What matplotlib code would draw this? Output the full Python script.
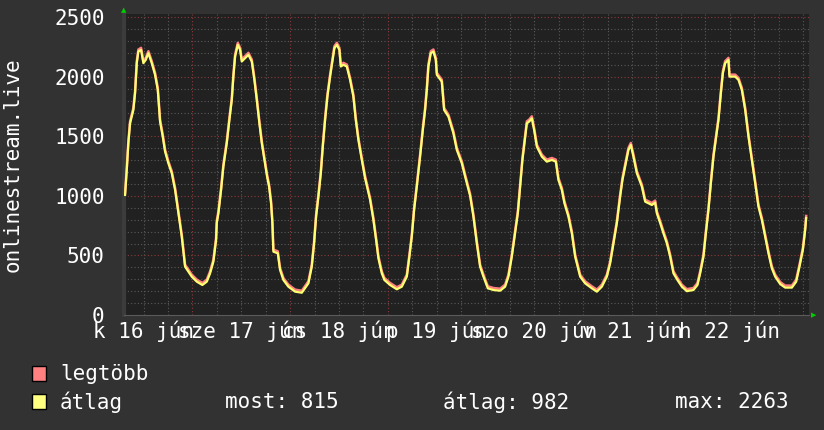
#!/usr/bin/env python3
"""
Viewer count graph for onlinestream.live, rrdtool look.
"""

import matplotlib

matplotlib.use("Agg")
import matplotlib.pyplot as plt
import matplotlib.transforms as mtransforms
from matplotlib.patches import Rectangle

# hours since 16 jun 00:00 and average viewers
hours = [
  7.46, 7.88, 8.27, 8.69, 9.50, 9.92, 10.34, 10.73, 11.39, 11.96, 12.55, 13.19, 14.02,
  14.83, 15.50, 16.06, 16.72, 17.29, 18.10, 18.94, 19.75, 20.56, 21.39, 22.20, 23.01,
  23.85, 25.08, 26.45, 27.54, 28.35, 29.16, 29.82, 29.99, 30.39, 31.05, 31.61, 32.45,
  33.09, 33.68, 34.07, 34.49, 35.15, 35.72, 36.13, 36.95, 37.76, 38.59, 39.23, 39.82,
  40.46, 41.05, 41.69, 42.35, 42.84, 43.33, 43.65, 43.90, 44.98, 45.54, 46.36, 47.58,
  49.23, 50.88, 52.50, 53.33, 53.90, 54.39, 54.96, 55.55, 56.04, 56.60, 57.17, 57.83,
  58.40, 58.89, 59.48, 60.11, 60.46, 61.10, 61.93, 62.74, 63.55, 64.14, 64.78, 65.62,
  66.43, 67.66, 68.47, 69.13, 69.70, 70.53, 71.17, 72.57, 74.22, 75.45, 76.68, 77.31,
  77.90, 78.47, 79.13, 79.94, 80.61, 81.17, 81.59, 81.98, 82.57, 83.21, 83.80, 84.05,
  85.27, 85.84, 86.90, 88.12, 88.96, 90.19, 91.00, 92.23, 93.04, 93.87, 94.68, 95.50,
  96.58, 97.95, 99.60, 100.83, 101.64, 102.47, 103.28, 103.95, 104.51, 105.08, 105.57,
  106.16, 106.72, 107.39, 107.95, 108.62, 109.85, 111.07, 112.30, 113.28, 113.92,
  114.76, 115.40, 116.38, 117.22, 118.03, 119.26, 120.48, 122.13, 123.36, 124.59,
  125.82, 126.63, 127.44, 128.27, 129.08, 129.65, 130.31, 131.12, 131.71, 132.35,
  133.19, 134.42, 135.23, 136.04, 136.87, 137.68, 138.10, 138.91, 139.72, 140.56,
  141.37, 142.18, 143.16, 144.24, 145.47, 147.09, 148.08, 148.74, 149.55, 150.14,
  150.78, 151.37, 152.01, 152.67, 153.24, 153.83, 154.32, 154.88, 155.69, 155.94,
  157.34, 158.15, 158.98, 159.80, 160.61, 161.44, 162.26, 163.06, 163.90, 164.71,
  165.52, 166.35, 167.17, 168.40, 169.62, 171.27, 172.33, 173.14, 173.97, 174.54, 174.78,
]
viewers = [
  1008, 1218, 1443, 1610, 1722, 1863, 2115, 2213, 2227, 2115, 2143, 2199, 2115,
  2017, 1890, 1624, 1498, 1372, 1274, 1190, 1050, 854, 658, 406, 364,
  322, 280, 252, 280, 350, 448, 630, 773, 854, 1050, 1246, 1443,
  1638, 1806, 2002, 2170, 2269, 2227, 2129, 2157, 2185, 2129, 1975, 1806,
  1610, 1443, 1302, 1162, 1078, 938, 773, 532, 518, 378, 294, 238,
  196, 187, 266, 406, 602, 826, 994, 1190, 1414, 1638, 1834, 2002,
  2129, 2241, 2269, 2227, 2087, 2101, 2087, 1975, 1834, 1638, 1470, 1302,
  1148, 966, 798, 630, 476, 350, 294, 252, 216, 238, 322, 490,
  658, 882, 1078, 1330, 1554, 1722, 1890, 2087, 2199, 2213, 2143, 2017,
  1960, 1722, 1666, 1526, 1386, 1274, 1162, 1000, 826, 602, 406, 322,
  224, 210, 204, 238, 322, 490, 686, 854, 1078, 1302, 1443,
  1610, 1624, 1652, 1554, 1414, 1330, 1288, 1302, 1288, 1134,
  1050, 938, 826, 686, 490, 322, 266, 224, 196, 238,
  322, 434, 602, 770, 994, 1134, 1246, 1386, 1428, 1330,
  1190, 1078, 952, 938, 924, 944, 854, 773, 686, 602,
  490, 350, 294, 238, 200, 210, 252, 350, 490, 686,
  882, 1106, 1330, 1498, 1638, 1863, 2031, 2115, 2143, 2002,
  2002, 1975, 1890, 1722, 1498, 1302, 1106, 910, 798, 658,
  518, 392, 322, 260, 230, 230, 280, 406, 546, 714, 815,
]

day_labels = ["k 16 jún", "sze 17 jún", "cs 18 jún", "p 19 jún", "szo 20 jún", "v 21 jún", "h 22 jún"]
legend_names = ["legtöbb", "átlag"]
stats = ["most: 815", "átlag: 982", "max: 2263"]

W, H = 824, 430
BG = "#323232"
PLOT_BG = "#212121"
MONO = "DejaVu Sans Mono"
FS = 15

fig = plt.figure(figsize=(W / 100, H / 100), dpi=100, facecolor=BG)
ax = fig.add_axes([124 / W, (H - 315) / H, (809.5 - 124) / W, (315 - 14) / H])
ax.set_facecolor(PLOT_BG)
ax.set_xlim(7.2, 175.6)
ax.set_ylim(0, 2528)

# grid: minor grey every 6h / 100, major red every day / 500
for h in range(12, 176, 6):
  if h % 24 != 0:
    ax.axvline(h, color="#5a5a5a", lw=0.8, ls=(0, (1, 2)), zorder=1)
for v in range(100, 2528, 100):
  if v % 500 != 0:
    ax.axhline(v, color="#5a5a5a", lw=0.8, ls=(0, (1, 2)), zorder=1)
for h in range(24, 176, 24):
  ax.axvline(h, color="#8a3a3a", lw=0.8, ls=(0, (1, 2)), zorder=1)
for v in range(500, 2528, 500):
  ax.axhline(v, color="#8a3a3a", lw=0.8, ls=(0, (1, 2)), zorder=1)

# max line sits a hair above the average line
up = mtransforms.offset_copy(ax.transData, fig=fig, x=0, y=2.0, units="dots")
ax.plot(hours, viewers, color="#ff7f7f", lw=1.8, transform=up, zorder=3)
ax.plot(hours, viewers, color="#ffff70", lw=1.6, zorder=4)

for s in ["top", "right"]:
  ax.spines[s].set_visible(False)
ax.spines["left"].set_color("#3c3c3c")
ax.spines["bottom"].set_color("#5a5a5a")
ax.spines["left"].set_linewidth(3)

ax.set_yticks(range(0, 2501, 500))
ax.set_yticklabels([str(v) for v in range(0, 2501, 500)], family=MONO, fontsize=FS, color="white")
ax.tick_params(axis="y", length=0, pad=14)
ax.set_xticks([])

# day labels centred at noon, allowed to overlap like rrdtool does
lab_tr = mtransforms.blended_transform_factory(ax.transData, ax.transAxes)
for i, lab in enumerate(day_labels):
  ax.text(12 + 24 * i, -23 / 301, lab, transform=lab_tr, ha="center", va="baseline",
          family=MONO, fontsize=FS, color="white", clip_on=False)

fig.text(13 / W, 1 - 164.5 / H, "onlinestream.live", rotation=90, ha="center", va="center",
         family=MONO, fontsize=FS, color="white")

# axis arrows
fig.text(124 / W, 1 - 10 / H, "▲", ha="center", va="center", fontsize=5, color="#00cc00")
fig.text(814 / W, 1 - 315 / H, "▶", ha="center", va="center", fontsize=5, color="#00cc00")

# legend
for i, (name, col) in enumerate(zip(legend_names, ["#ff8080", "#ffff80"])):
  y = 366 + 28 * i
  fig.add_artist(Rectangle((32 / W, 1 - (y + 15) / H), 14 / W, 15 / H, transform=fig.transFigure,
                           facecolor=col, edgecolor="black", lw=1))
  fig.text(60 / W, 1 - (y + 8) / H, name, ha="left", va="center", family=MONO, fontsize=FS, color="white")

for x, s in zip([225, 443, 675], stats):
  fig.text(x / W, 1 - 402 / H, s, ha="left", va="center", family=MONO, fontsize=FS, color="white")

fig.savefig("out.png", dpi=100, facecolor=BG)
